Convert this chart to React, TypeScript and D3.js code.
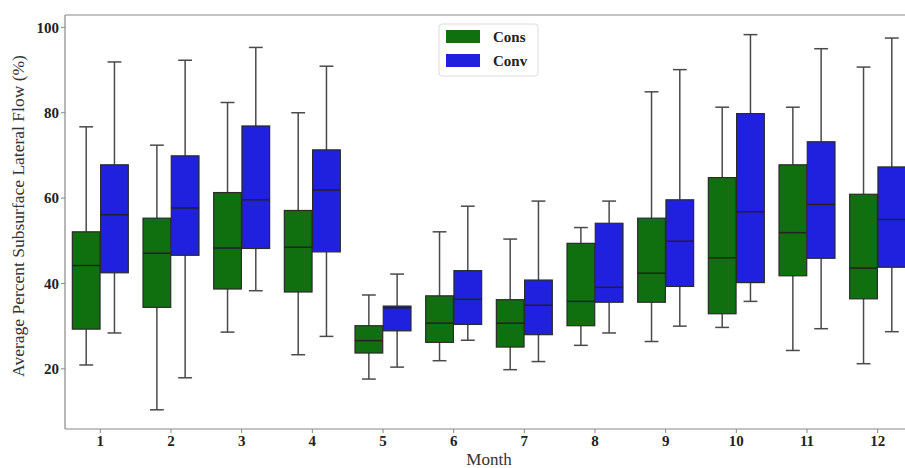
import React from "react";
import * as d3 from "d3";

const months = ["1", "2", "3", "4", "5", "6", "7", "8", "9", "10", "11", "12"];
const series = ["Cons", "Conv"];
const colors = ["#107010", "#2020df"];

// [whiskerLow, q1, median, q3, whiskerHigh]
const consStats: number[][] = [
  [20.9, 29.3, 44.2, 52.1, 76.7],
  [10.4, 34.4, 47.1, 55.3, 72.4],
  [28.6, 38.7, 48.3, 61.3, 82.4],
  [23.3, 38.0, 48.5, 57.1, 80.0],
  [17.6, 23.7, 26.6, 30.1, 37.3],
  [21.9, 26.2, 30.7, 37.1, 52.1],
  [19.8, 25.1, 30.7, 36.2, 50.4],
  [25.5, 30.1, 35.8, 49.4, 53.1],
  [26.4, 35.6, 42.4, 55.3, 84.9],
  [29.7, 32.9, 46.0, 64.8, 81.3],
  [24.3, 41.8, 51.9, 67.8, 81.3],
  [21.2, 36.4, 43.6, 60.9, 90.7],
];
const convStats: number[][] = [
  [28.4, 42.5, 56.1, 67.8, 91.9],
  [17.9, 46.6, 57.7, 69.9, 92.3],
  [38.3, 48.2, 59.6, 76.9, 95.3],
  [27.6, 47.4, 61.9, 71.3, 90.9],
  [20.4, 28.9, 34.3, 34.7, 42.2],
  [26.7, 30.4, 36.3, 43.0, 58.1],
  [21.7, 28.0, 34.9, 40.8, 59.3],
  [28.4, 35.6, 39.1, 54.1, 59.3],
  [30.0, 39.3, 49.9, 59.6, 90.1],
  [35.8, 40.2, 56.8, 79.8, 98.3],
  [29.4, 45.9, 58.5, 73.2, 95.0],
  [28.7, 43.8, 55.0, 67.3, 97.5],
];
const yTicks = [20, 40, 60, 80, 100];

const W = 905;
const H = 468;
const margin = { left: 65, top: 15, right: 913, bottom: 429 };
const lineColor = "#4a4a4a";
const serif = "'Liberation Serif', 'DejaVu Serif', serif";

export default function App() {
  const x = d3.scaleBand<string>().domain(months).range([margin.left, margin.right]).paddingInner(0).paddingOuter(0);
  const y = d3.scaleLinear().domain([5.9, 102.9]).range([margin.bottom, margin.top]);
  const step = x.bandwidth();
  const groupW = step * 0.8;
  const boxW = groupW / 2;
  const all = [consStats, convStats];

  return (
    <svg width={W} height={H} style={{ position: "absolute", left: 0, top: 0 }} fontFamily={serif}>
      <rect x={0} y={0} width={W} height={H} fill="#fff" />
      {months.map((m, i) =>
        all.map((stats, s) => {
          const [lo, q1, med, q3, hi] = stats[i];
          const cx = (x(m) as number) + step / 2;
          const x0 = cx - groupW / 2 + s * boxW;
          const bx = x0 + boxW * 0.01;
          const bw = boxW * 0.98;
          const mid = x0 + boxW / 2;
          const capW = bw / 2;
          return (
            <g key={`${m}-${s}`}>
              <line x1={mid} x2={mid} y1={y(q3)} y2={y(hi)} stroke={lineColor} strokeWidth={1.5} />
              <line x1={mid} x2={mid} y1={y(q1)} y2={y(lo)} stroke={lineColor} strokeWidth={1.5} />
              <line x1={mid - capW / 2} x2={mid + capW / 2} y1={y(hi)} y2={y(hi)} stroke={lineColor} strokeWidth={1.5} />
              <line x1={mid - capW / 2} x2={mid + capW / 2} y1={y(lo)} y2={y(lo)} stroke={lineColor} strokeWidth={1.5} />
              <rect x={bx} y={y(q3)} width={bw} height={y(q1) - y(q3)} fill={colors[s]} stroke="#2a2a2a" strokeWidth={1.2} />
              <line x1={bx} x2={bx + bw} y1={y(med)} y2={y(med)} stroke="#222" strokeWidth={1.5} />
            </g>
          );
        })
      )}
      {/* spines */}
      <line x1={margin.left} x2={margin.left} y1={margin.top} y2={margin.bottom} stroke="#888" strokeWidth={1.2} />
      <line x1={margin.left} x2={W} y1={margin.bottom} y2={margin.bottom} stroke="#888" strokeWidth={1.2} />
      <line x1={margin.left} x2={W} y1={margin.top} y2={margin.top} stroke="#888" strokeWidth={1.2} />
      {/* y ticks */}
      {yTicks.map((t) => (
        <g key={t}>
          <line x1={margin.left - 4} x2={margin.left} y1={y(t)} y2={y(t)} stroke="#888" strokeWidth={1} />
          <text x={margin.left - 6} y={y(t)} dy="0.35em" textAnchor="end" fontSize={15} fontWeight="bold" fill="#222">
            {t}
          </text>
        </g>
      ))}
      {/* x ticks */}
      {months.map((m) => {
        const cx = (x(m) as number) + step / 2;
        return (
          <g key={m}>
            <line x1={cx} x2={cx} y1={margin.bottom} y2={margin.bottom + 4} stroke="#888" strokeWidth={1} />
            <text x={cx} y={margin.bottom + 17} textAnchor="middle" fontSize={15} fontWeight="bold" fill="#222">
              {m}
            </text>
          </g>
        );
      })}
      <text x={(margin.left + margin.right) / 2} y={465} textAnchor="middle" fontSize={17} fill="#333">
        Month
      </text>
      <text
        transform={`translate(24, 216) rotate(-90)`}
        textAnchor="middle"
        fontSize={17.5}
        fill="#333"
      >
        Average Percent Subsurface Lateral Flow (%)
      </text>
      {/* legend */}
      <rect x={439} y={24} width={99} height={52} rx={3} fill="#fff" stroke="#ddd" strokeWidth={1} />
      {series.map((s, i) => (
        <g key={s}>
          <rect x={446} y={30 + i * 24} width={34} height={13} fill={colors[i]} />
          <text x={493} y={42 + i * 24} fontSize={15} fontWeight="bold" fill="#222">
            {s}
          </text>
        </g>
      ))}
    </svg>
  );
}
